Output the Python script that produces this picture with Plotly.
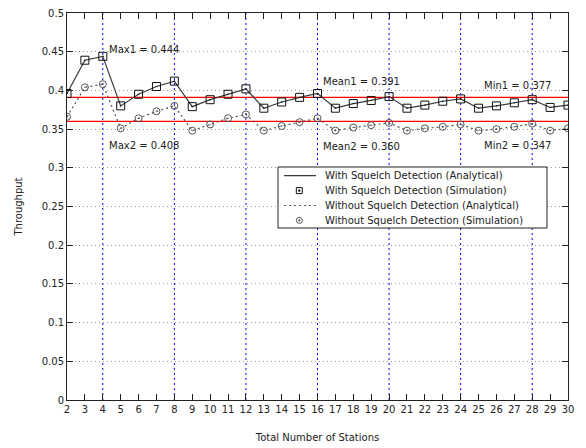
import plotly.graph_objects as go

stations = list(range(2, 31))

with_sim = [0.396, 0.439, 0.444, 0.380, 0.395, 0.405, 0.412, 0.379, 0.388, 0.395,
            0.402, 0.377, 0.385, 0.391, 0.396, 0.377, 0.383, 0.387, 0.392, 0.377,
            0.381, 0.386, 0.389, 0.377, 0.380, 0.384, 0.388, 0.378, 0.381]
with_ana = list(with_sim)

without_sim = [0.366, 0.404, 0.408, 0.351, 0.364, 0.373, 0.380, 0.348, 0.356, 0.364,
               0.369, 0.348, 0.354, 0.359, 0.364, 0.348, 0.352, 0.355, 0.358, 0.348,
               0.351, 0.353, 0.356, 0.348, 0.350, 0.353, 0.357, 0.348, 0.351]
without_ana = list(without_sim)

mean_values = [0.391, 0.360]
blue_grid_x = [4, 8, 12, 16, 20, 24, 28]

annotations_text = ["Max1 = 0.444", "Max2 = 0.408", "Mean1 = 0.391",
                    "Mean2 = 0.360", "Min1 = 0.377", "Min2 = 0.347"]
annotations_x = [4.22, 4.22, 16.2, 16.2, 25.2, 25.2]
annotations_y = [0.453, 0.329, 0.411, 0.328, 0.406, 0.329]

legend_labels = ["With Squelch Detection (Analytical)",
                 "With Squelch Detection (Simulation)",
                 "Without Squelch Detection (Analytical)",
                 "Without Squelch Detection (Simulation)"]

FONT = "DejaVu Sans"
TXT = "#222222"
LINE1 = "#3a3a3a"
LINE2 = "#555555"
MK1 = "#111111"
MK2 = "#555555"

fig = go.Figure()
fig.add_trace(go.Scatter(x=stations, y=with_ana, mode="lines",
                         line=dict(color=LINE1, width=1.2),
                         name=legend_labels[0], showlegend=False))
fig.add_trace(go.Scatter(x=stations, y=with_sim, mode="markers",
                         marker=dict(symbol="square-open-dot", size=8, color=MK1,
                                     line=dict(width=1)),
                         name=legend_labels[1], showlegend=False))
fig.add_trace(go.Scatter(x=stations, y=without_ana, mode="lines",
                         line=dict(color=LINE2, width=1.2, dash="2px,3px"),
                         name=legend_labels[2], showlegend=False))
fig.add_trace(go.Scatter(x=stations, y=without_sim, mode="markers",
                         marker=dict(symbol="circle-open-dot", size=7, color=MK2,
                                     line=dict(width=1)),
                         name=legend_labels[3], showlegend=False))

shapes = []
for gx in blue_grid_x:
    shapes.append(dict(type="line", xref="x", yref="paper", x0=gx, x1=gx, y0=0, y1=1,
                       line=dict(color="#0000ff", width=1, dash="2px,3px"), layer="below"))
for m in mean_values:
    shapes.append(dict(type="line", xref="paper", yref="y", x0=0, x1=1, y0=m, y1=m,
                       line=dict(color="#ff0000", width=1.4), layer="below"))

annotations = []
for t, ax, ay in zip(annotations_text, annotations_x, annotations_y):
    annotations.append(dict(x=ax, y=ay, xref="x", yref="y", text=t, showarrow=False,
                            xanchor="left", yanchor="middle",
                            font=dict(family=FONT, size=10, color=TXT)))

# ---- hand-drawn legend box (paper coordinates) ----
box_x0, box_x1, box_y0, box_y1 = 0.4212, 0.9581, 0.4444, 0.6021
row_y = [0.5796, 0.5411, 0.5026, 0.4641]
samp_x0, samp_x1, samp_xc, text_x = 0.4331, 0.4970, 0.4637, 0.5116

shapes.append(dict(type="rect", xref="paper", yref="paper",
                   x0=box_x0, x1=box_x1, y0=box_y0, y1=box_y1,
                   fillcolor="white", line=dict(color=TXT, width=1), layer="above"))
shapes.append(dict(type="line", xref="paper", yref="paper",
                   x0=samp_x0, x1=samp_x1, y0=row_y[0], y1=row_y[0],
                   line=dict(color=LINE1, width=1.2), layer="above"))
shapes.append(dict(type="rect", xref="paper", yref="paper",
                   xsizemode="pixel", ysizemode="pixel",
                   xanchor=samp_xc, yanchor=row_y[1], x0=-3, x1=3, y0=-3, y1=3,
                   line=dict(color=MK1, width=1), layer="above"))
shapes.append(dict(type="rect", xref="paper", yref="paper",
                   xsizemode="pixel", ysizemode="pixel",
                   xanchor=samp_xc, yanchor=row_y[1], x0=-0.8, x1=0.8, y0=-0.8, y1=0.8,
                   fillcolor=MK1, line=dict(color=MK1, width=0.5), layer="above"))
shapes.append(dict(type="line", xref="paper", yref="paper",
                   x0=samp_x0, x1=samp_x1, y0=row_y[2], y1=row_y[2],
                   line=dict(color=LINE2, width=1.2, dash="2px,3px"), layer="above"))
shapes.append(dict(type="circle", xref="paper", yref="paper",
                   xsizemode="pixel", ysizemode="pixel",
                   xanchor=samp_xc, yanchor=row_y[3], x0=-3, x1=3, y0=-3, y1=3,
                   line=dict(color=MK2, width=1), layer="above"))
shapes.append(dict(type="circle", xref="paper", yref="paper",
                   xsizemode="pixel", ysizemode="pixel",
                   xanchor=samp_xc, yanchor=row_y[3], x0=-0.8, x1=0.8, y0=-0.8, y1=0.8,
                   fillcolor=MK2, line=dict(color=MK2, width=0.5), layer="above"))

for lab, ry in zip(legend_labels, row_y):
    annotations.append(dict(x=text_x, y=ry, xref="paper", yref="paper", text=lab,
                            showarrow=False, xanchor="left", yanchor="middle",
                            font=dict(family=FONT, size=10, color=TXT)))

fig.update_layout(
    width=586, height=448,
    margin=dict(l=59, r=26, t=5, b=56),
    paper_bgcolor="white", plot_bgcolor="white",
    font=dict(family=FONT, size=10, color=TXT),
    shapes=shapes, annotations=annotations,
    showlegend=False,
    xaxis=dict(range=[2, 30], tickmode="linear", tick0=2, dtick=1,
               ticks="inside", ticklen=6, tickcolor=TXT,
               showline=True, linecolor=TXT, linewidth=1, mirror="allticks",
               showgrid=False, zeroline=False, automargin=False,
               ticklabeloverflow="allow",
               tickfont=dict(family=FONT, size=10, color=TXT),
               title=dict(text="Total Number of Stations", standoff=19,
                          font=dict(family=FONT, size=10, color=TXT))),
    yaxis=dict(range=[0, 0.5], tickmode="linear", tick0=0, dtick=0.05,
               ticks="inside", ticklen=6, tickcolor=TXT,
               showline=True, linecolor=TXT, linewidth=1, mirror="allticks",
               showgrid=True, gridcolor="#999999", griddash="1px,3px", gridwidth=1,
               zeroline=False, automargin=False,
               ticklabeloverflow="allow",
               tickfont=dict(family=FONT, size=10, color=TXT),
               title=dict(text="Throughput", standoff=17,
                          font=dict(family=FONT, size=10, color=TXT))),
)

fig.write_html("out.html")
